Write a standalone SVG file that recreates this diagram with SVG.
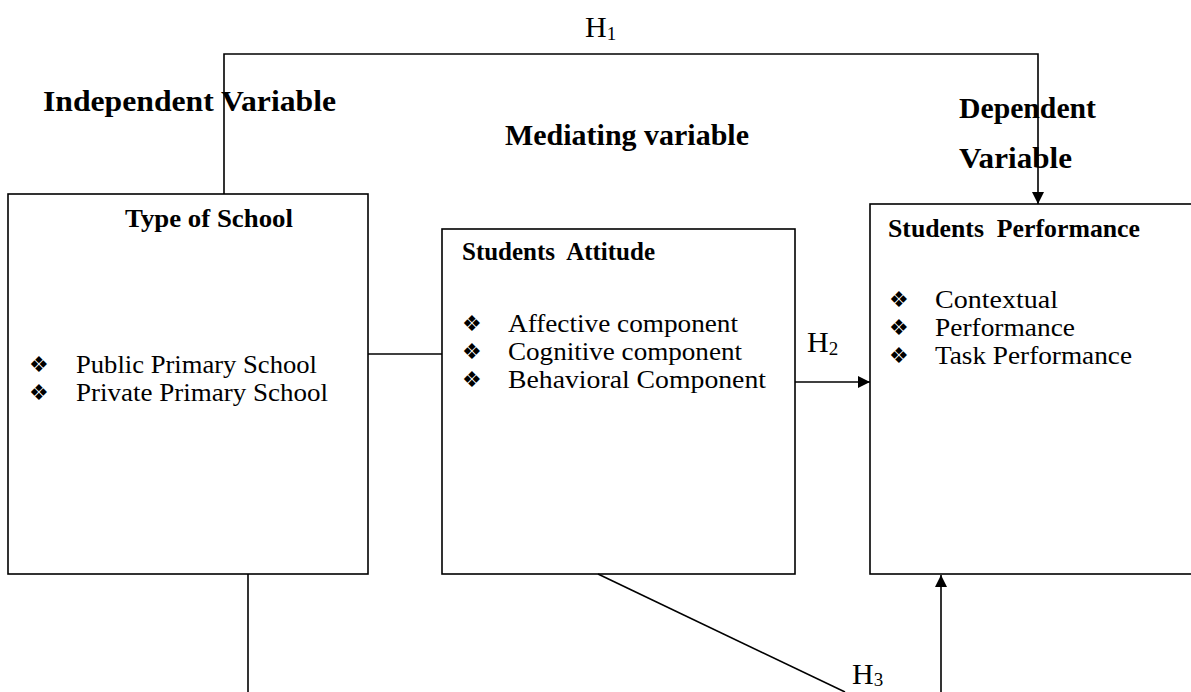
<svg xmlns="http://www.w3.org/2000/svg" width="1191" height="692" viewBox="0 0 1191 692">
<defs>
<style>
.box{fill:#fff;stroke:#000;stroke-width:1.6}
.ln{fill:none;stroke:#000;stroke-width:1.6}
.sec{font-family:"Liberation Serif","Times New Roman",serif;font-weight:bold;font-size:30px;fill:#000}
.ttl{font-family:"Liberation Serif","Times New Roman",serif;font-weight:bold;font-size:25px;fill:#000}
.itm{font-family:"Liberation Serif","Times New Roman",serif;font-size:25px;fill:#000}
.bul{font-family:"DejaVu Sans",sans-serif;font-size:22px;fill:#000}
.h{font-family:"Liberation Serif","Times New Roman",serif;font-size:30px;fill:#000}
</style>
<marker id="ah" viewBox="0 0 10 10" refX="10" refY="5" markerWidth="12" markerHeight="12" markerUnits="userSpaceOnUse" orient="auto">
<path d="M0,0 L10,5 L0,10 Z" fill="#000"/>
</marker>
</defs>
<rect width="1191" height="692" fill="#fff"/>
<g id="labels">
<text class="sec" x="43" y="111" textLength="293" lengthAdjust="spacingAndGlyphs">Independent Variable</text>
<text class="sec" x="505" y="145" textLength="244" lengthAdjust="spacingAndGlyphs">Mediating variable</text>
<text class="sec" x="959" y="118" textLength="137" lengthAdjust="spacingAndGlyphs">Dependent</text>
<text class="sec" x="959" y="168" textLength="113" lengthAdjust="spacingAndGlyphs">Variable</text>
</g>
<g id="type-of-school">
<rect class="box" x="8" y="194" width="360" height="380"/>
<text class="ttl" x="125" y="227" textLength="168" lengthAdjust="spacingAndGlyphs">Type of School</text>
<text class="bul" x="29" y="372">❖</text>
<text class="itm" x="76" y="373" textLength="241" lengthAdjust="spacingAndGlyphs">Public Primary School</text>
<text class="bul" x="29" y="400">❖</text>
<text class="itm" x="76" y="401" textLength="252" lengthAdjust="spacingAndGlyphs">Private Primary School</text>
</g>
<g id="students-attitude">
<rect class="box" x="442" y="229" width="353" height="345"/>
<text class="ttl" x="462" y="260" textLength="193" lengthAdjust="spacingAndGlyphs" xml:space="preserve">Students  Attitude</text>
<text class="bul" x="462" y="331">❖</text>
<text class="itm" x="508" y="332" textLength="230" lengthAdjust="spacingAndGlyphs">Affective component</text>
<text class="bul" x="462" y="359">❖</text>
<text class="itm" x="508" y="360" textLength="234" lengthAdjust="spacingAndGlyphs">Cognitive component</text>
<text class="bul" x="462" y="387">❖</text>
<text class="itm" x="508" y="388" textLength="258" lengthAdjust="spacingAndGlyphs">Behavioral Component</text>
</g>
<g id="students-performance">
<rect class="box" x="870" y="204" width="340" height="370"/>
<text class="ttl" x="888" y="237" textLength="252" lengthAdjust="spacingAndGlyphs" xml:space="preserve">Students  Performance</text>
<text class="bul" x="889" y="307">❖</text>
<text class="itm" x="935" y="308" textLength="123" lengthAdjust="spacingAndGlyphs">Contextual</text>
<text class="bul" x="889" y="335">❖</text>
<text class="itm" x="935" y="336" textLength="140" lengthAdjust="spacingAndGlyphs">Performance</text>
<text class="bul" x="889" y="363">❖</text>
<text class="itm" x="935" y="364" textLength="197" lengthAdjust="spacingAndGlyphs">Task Performance</text>
</g>
<g id="connectors">
<path class="ln" d="M224,194 V54 H1038 V204" marker-end="url(#ah)"/>
<line class="ln" x1="368" y1="354" x2="442" y2="354"/>
<line class="ln" x1="795" y1="382" x2="870" y2="382" marker-end="url(#ah)"/>
<line class="ln" x1="248" y1="574" x2="248" y2="692"/>
<line class="ln" x1="598" y1="574" x2="845" y2="692"/>
<line class="ln" x1="941" y1="692" x2="941" y2="575" marker-end="url(#ah)"/>
<text class="h" x="585" y="37">H<tspan font-size="19" dy="3">1</tspan></text>
<text class="h" x="807" y="352">H<tspan font-size="19" dy="3">2</tspan></text>
<text class="h" x="852" y="684">H<tspan font-size="19" dy="2">3</tspan></text>
</g>
</svg>
